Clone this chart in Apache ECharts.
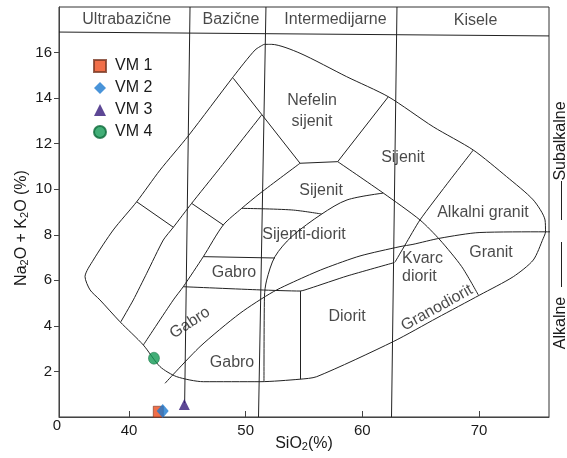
<!DOCTYPE html>
<html><head><meta charset="utf-8">
<script src="https://cdn.jsdelivr.net/npm/echarts@6/dist/echarts.min.js"></script>
<style>html,body{margin:0;padding:0;background:#fff}#c{width:567px;height:458px}</style>
</head><body><div id="c"></div>
<script>
const FONT = '"Liberation Sans", Arial, sans-serif';
const TXT = '#1a1a1a';
const xTicks = [40, 50, 60, 70];
const yTicks = [2, 4, 6, 8, 10, 12, 14, 16];

const sampleNames = ['VM 1', 'VM 2', 'VM 3', 'VM 4'];
const sampleSiO2 = [42.51, 42.89, 44.74, 42.14];
const sampleAlk = [0.23, 0.26, 0.55, 2.58];

// field boundaries [SiO2, Na2O+K2O]
const envelope = [[51.57,16.36],[52.23,16.36],[54.66,15.97],[58.66,14.94],[62.23,14.06],[66.08,12.74],[69.51,11.72],[72.37,10.55],[74.65,9.53],[75.66,8.65],[75.70,8.13],[75.51,7.85],[74.65,6.89],[72.94,6.16],[70.08,5.36],[66.4,4.35],[62.65,3.31],[56.09,1.77],[54.66,1.66],[51.23,1.55],[46.37,1.55],[44.09,1.77],[42.66,2.21],[41.23,3.16],[39.23,4.18],[37.51,5.14],[36.66,5.58],[36.23,6.16],[36.94,6.89],[38.65,8.21],[40.66,9.45],[42.66,10.84],[45.08,12.34],[48.94,14.94],[50.80,16.11],[51.57,16.36]];
const diagB = [[51.37,13.26],[47.65,10.84],[45.37,9.38],[43.80,8.33],[42.94,7.77],[41.52,6.31],[40.37,5.14],[39.30,4.18]];
const nefLeft = [[48.94,14.87],[54.66,11.14]];
const nefBottom = [[54.66,11.14],[57.89,11.21]];
const nefRight = [[57.89,11.21],[62.23,14.06]];
const diagC = [[54.66,11.14],[51.23,9.82],[49.66,9.16],[48.08,8.43],[46.37,7.04],[44.65,5.72],[43.80,5.14],[41.23,3.16]];
const cross1 = [[40.66,9.45],[43.80,8.33]];
const cross2 = [[45.37,9.38],[48.08,8.43]];
const gabroTop = [[46.37,7.04],[52.51,6.98]];
const lowerLine = [[44.65,5.72],[51.23,5.58],[54.66,5.53],[55.51,5.65],[58.69,6.19],[62.75,6.78]];
const alkaliLine = [[43.09,1.48],[46.09,3.09],[49.51,4.55],[52.37,5.50],[55.09,6.16],[56.80,6.53],[59.80,7.07],[63.23,7.48],[64.34,7.58],[66.66,7.85],[70.08,8.10],[75.66,8.13],[77.6,8.13]];
const arc = [[61.80,9.83],[58.69,9.53],[56.52,8.91],[53.95,7.92],[52.51,7.04],[51.80,6.01],[51.61,5.28],[51.57,1.58]];
const syeniteSplit = [[49.66,9.16],[53.95,9.09],[56.52,8.91]];
const rightLine = [[57.89,11.21],[61.80,9.83],[64.94,8.65],[66.66,7.77],[68.52,6.60],[69.94,5.36]];
const akgLine = [[69.51,11.72],[67.51,10.40],[64.94,8.65],[63.66,7.55],[62.80,6.80]];
const dioritLine = [[54.70,5.53],[54.70,1.66]];
const line45 = [[45.23,18],[44.77,0.61]];
const line52 = [[51.74,18],[51.10,0]];
const line63 = [[62.97,18],[62.50,0]];
const headerLine = [[34,16.90],[76,16.73]];

const fieldNames = ['Nefelin\nsijenit','Sijenit','Sijenit','Sijenti-diorit','Gabro','Gabro','Gabro','Diorit','Kvarc\ndiorit','Granit','Alkalni granit','Granodiorit'];
const fieldSiO2 = [55.69,63.48,56.46,55.0,49.0,45.23,48.83,58.69,63.40,71.03,70.34,66.40];
const fieldAlk = [13.43,11.41,9.92,7.99,6.32,4.13,2.41,4.39,6.56,7.20,8.96,4.79];
const fieldAngle = [0,0,0,0,0,33,0,0,0,0,0,29];

const headerNames = ['Ultrabazične','Bazične','Intermedijarne','Kisele'];
const headerSiO2 = [39.81,48.74,57.70,69.70];
const headerAlk = [17.43,17.43,17.43,17.40];

const LC = '#222';
function lineSeries(data, smooth, clip) {
  return {type:'line', data:data, symbol:'none', smooth:smooth||0, silent:true, clip: clip !== false,
    lineStyle:{color:LC, width:1}, z:2, animation:false};
}

const sampleStyles = [
  {symbol:'rect', symbolSize:[10,11], itemStyle:{color:'#EE4B1B', borderColor:'#7a3a26', borderWidth:0.8}},
  {symbol:'diamond', symbolSize:[12,14], itemStyle:{color:'#1B79CF'}},
  {symbol:'triangle', symbolSize:[11,11], itemStyle:{color:'#35197A'}},
  {symbol:'circle', symbolSize:[11,12], itemStyle:{color:'#139A55', borderColor:'#0c6a3a', borderWidth:0.6}}
];

const series = [
  lineSeries(envelope, 0.25),
  lineSeries(diagB, 0.2), lineSeries(nefLeft), lineSeries(nefBottom), lineSeries(nefRight),
  lineSeries(diagC, 0.25), lineSeries(cross1), lineSeries(cross2), lineSeries(gabroTop),
  lineSeries(lowerLine, 0.2), lineSeries(alkaliLine, 0.25, false), lineSeries(arc, 0.3),
  lineSeries(syeniteSplit, 0.3), lineSeries(rightLine, 0.25), lineSeries(akgLine, 0.2),
  lineSeries(dioritLine), lineSeries(line45), lineSeries(line52), lineSeries(line63), lineSeries(headerLine)
];

const HIDDEN = {color:'rgba(0,0,0,0)', borderWidth:0};
series.push({
  type:'scatter', silent:true, symbolSize:1, itemStyle:HIDDEN, z:3,
  data: fieldNames.map((n,i)=>({name:n, value:[fieldSiO2[i], fieldAlk[i]],
    label: n.startsWith('Kvarc') ? {align:'left', lineHeight:18} : (fieldAngle[i] ? {rotate:fieldAngle[i]} : {})})),
  label:{show:true, position:'inside', formatter:'{b}', color:TXT, fontSize:16, fontFamily:FONT, lineHeight:21}
});
series.push({
  type:'scatter', silent:true, symbolSize:1, itemStyle:HIDDEN, z:3,
  data: headerNames.map((n,i)=>({name:n, value:[headerSiO2[i], headerAlk[i]]})),
  label:{show:true, position:'inside', formatter:'{b}', color:TXT, fontSize:16, fontFamily:FONT}
});

sampleNames.forEach((n,i)=>{
  series.push(Object.assign({type:'scatter', name:n, data:[[sampleSiO2[i], sampleAlk[i]]], z:5, clip:false}, sampleStyles[i]));
});

const chart = echarts.init(document.getElementById('c'), null, {renderer:'canvas'});
chart.setOption({
  animation:false,
  backgroundColor:'#fff',
  grid:{left:59, top:7, width:490, height:410, show:true, borderColor:'#333', borderWidth:1, backgroundColor:'transparent'},
  xAxis:{type:'value', min:34, max:76,
    axisLine:{show:true, lineStyle:{color:'#444', width:1}},
    axisTick:{show:true, inside:true, length:6, customValues:xTicks, lineStyle:{color:'#444'}},
    axisLabel:{customValues:xTicks, fontSize:15, color:TXT, margin:6, fontFamily:FONT},
    splitLine:{show:false}},
  yAxis:{type:'value', min:0, max:18, interval:2,
    axisLine:{show:true, lineStyle:{color:'#444', width:1}},
    axisTick:{show:true, inside:false, length:5, customValues:yTicks, lineStyle:{color:'#444'}},
    axisLabel:{customValues:yTicks, fontSize:15, color:TXT, margin:7, fontFamily:FONT},
    splitLine:{show:false}},
  legend:{orient:'vertical', left:88, top:53, itemWidth:12, itemHeight:12, itemGap:6,
    data:sampleNames, selectedMode:false,
    textStyle:{fontSize:16, color:TXT, fontFamily:FONT, padding:[0,0,0,4]}},
  graphic:[
    {type:'text', x:57, y:426, style:{text:'0', font:'15px '+FONT, fill:TXT, align:'center', verticalAlign:'middle'}},
    {type:'text', x:304, y:444, style:{text:'SiO{s|2}(%)', font:'16px '+FONT, fill:TXT, align:'center', verticalAlign:'middle',
      rich:{s:{fontSize:11, fontFamily:FONT, fill:TXT, lineHeight:11, padding:[7,0,0,0], verticalAlign:'bottom'}}}},
    {type:'text', x:22, y:228, rotation:Math.PI/2, style:{text:'Na{s|2}O + K{s|2}O (%)', font:'16px '+FONT, fill:TXT, align:'center', verticalAlign:'middle',
      rich:{s:{fontSize:11, fontFamily:FONT, fill:TXT, lineHeight:11, padding:[7,0,0,0], verticalAlign:'bottom'}}}},
    {type:'text', x:561, y:141, rotation:Math.PI/2, style:{text:'Subalkalne', font:'16px '+FONT, fill:TXT, align:'center', verticalAlign:'middle'}},
    {type:'text', x:561, y:323, rotation:Math.PI/2, style:{text:'Alkalne', font:'16px '+FONT, fill:TXT, align:'center', verticalAlign:'middle'}},
    {type:'line', shape:{x1:561.5, y1:181, x2:561.5, y2:220}, style:{stroke:'#222', lineWidth:1}},
    {type:'line', shape:{x1:561.5, y1:242, x2:561.5, y2:287}, style:{stroke:'#222', lineWidth:1}}
  ],
  series: series
});
</script></body></html>
